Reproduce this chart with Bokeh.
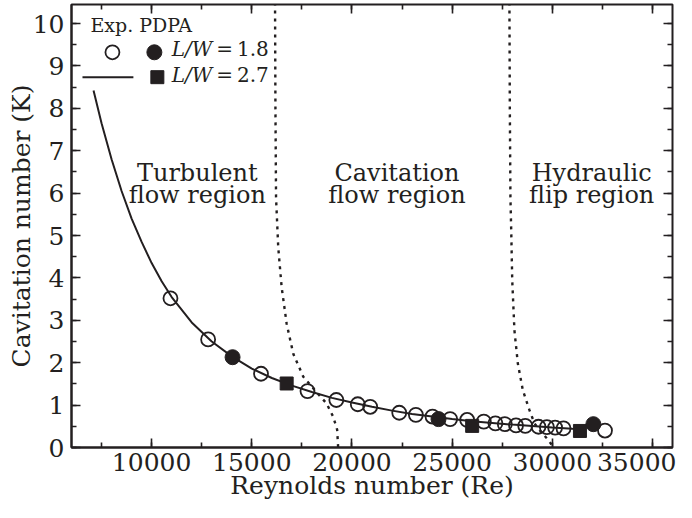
import math
from bokeh.plotting import figure
from bokeh.models import Range1d, LinearAxis, SingleIntervalTicker, Label, CustomLabelingPolicy
from bokeh.embed import file_html
from bokeh.resources import INLINE

FONT = "DejaVu Serif"
INK = "#231f20"

# ---------------- data ----------------
# open-circle experimental points
open_re = [10940, 12820, 15460, 17780, 19220, 20290, 20910, 22360, 23190, 24020,
           24900, 25750, 26580, 27160, 27630, 28190, 28650, 29310, 29730, 30140,
           30560, 32630]
open_k = [3.52, 2.55, 1.74, 1.33, 1.12, 1.02, 0.96, 0.82, 0.77, 0.73,
          0.67, 0.65, 0.61, 0.57, 0.55, 0.52, 0.51, 0.49, 0.48, 0.47,
          0.45, 0.40]
# filled circles, L/W = 1.8
lw18_re = [14040, 24320, 32050]
lw18_k = [2.13, 0.67, 0.55]
# filled squares, L/W = 2.7
lw27_re = [16740, 26000, 31380]
lw27_k = [1.51, 0.51, 0.39]
# fitted curve
curve_re = [7100, 7500, 8000, 8500, 9000, 9500, 10000, 10500, 11000, 12000,
            13000, 14000, 15000, 16000, 17000, 18000, 19000, 20000, 21000, 22000,
            23000, 24000, 25000, 26000, 27000, 28000, 29000, 30000, 31000, 31500]
curve_k = [8.42, 7.65, 6.80, 6.05, 5.40, 4.85, 4.35, 3.92, 3.55, 2.95,
           2.50, 2.15, 1.86, 1.64, 1.46, 1.31, 1.17, 1.06, 0.96, 0.87,
           0.79, 0.73, 0.67, 0.62, 0.58, 0.54, 0.51, 0.47, 0.44, 0.43]
# region boundaries (dotted)
b1_re = [16160, 16180, 16210, 16320, 16490, 16740, 17070, 17570, 18150, 18730, 19060, 19260, 19310]
b1_k = [10.5, 8.0, 5.89, 4.72, 3.78, 2.92, 2.21, 1.67, 1.35, 1.04, 0.73, 0.42, 0.0]
b2_re = [27860, 27880, 27910, 27950, 28000, 28110, 28280, 28530, 28860, 29110, 29450, 29800, 30050]
b2_k = [10.5, 8.0, 5.89, 5.11, 3.94, 2.76, 1.98, 1.35, 0.88, 0.57, 0.36, 0.18, 0.0]

x_start, x_end = 6000, 36000
y_start, y_end = 0, 10.45

W, H = 676, 502
BL, BR, BT, BB = 71, 3, 4, 53

# pixel -> data helpers (for annotation placement only)
def px_x(px):
    return x_start + (px - BL) * (x_end - x_start) / (W - BL - BR)

def px_y(py):
    return y_start + (H - BB - py) * (y_end - y_start) / (H - BT - BB)

p = figure(width=W, height=H, output_backend="svg", toolbar_location=None,
           x_range=Range1d(x_start, x_end), y_range=Range1d(y_start, y_end),
           min_border_left=BL, min_border_right=BR, min_border_top=BT, min_border_bottom=BB)
p.grid.visible = False
p.outline_line_color = INK
p.outline_line_width = 2
p.background_fill_color = "white"
p.border_fill_color = "white"

def style_axis(ax, labels=True):
    ax.axis_line_color = INK
    ax.axis_line_width = 2
    ax.major_tick_line_color = INK
    ax.minor_tick_line_color = INK
    ax.major_tick_line_width = 1.6
    ax.minor_tick_line_width = 1.6
    ax.major_tick_in = 9
    ax.major_tick_out = 0
    ax.minor_tick_in = 5
    ax.minor_tick_out = 0
    ax.major_label_text_font = FONT
    ax.major_label_text_color = INK
    ax.axis_label_text_font = FONT
    ax.axis_label_text_color = INK
    ax.axis_label_text_font_style = "normal"
    ax.axis_label_text_font_size = "25px"
    if labels:
        ax.major_label_text_font_size = "25px"
    else:
        ax.major_label_text_font_size = "1px"
        ax.major_label_standoff = 0
        ax.major_label_policy = CustomLabelingPolicy(code="return []")
        ax.axis_line_color = None

p.xaxis[0].ticker = SingleIntervalTicker(interval=5000, num_minor_ticks=2)
p.yaxis[0].ticker = SingleIntervalTicker(interval=1, num_minor_ticks=2)
style_axis(p.xaxis[0])
style_axis(p.yaxis[0])
p.xaxis[0].major_label_standoff = 5
p.yaxis[0].major_label_standoff = 7
p.xaxis[0].axis_label = "Reynolds number (Re)"
p.yaxis[0].axis_label = "Cavitation number (K)"
p.xaxis[0].axis_label_standoff = -3
p.yaxis[0].axis_label_standoff = -6

top_ax = LinearAxis(ticker=SingleIntervalTicker(interval=5000, num_minor_ticks=2))
right_ax = LinearAxis(ticker=SingleIntervalTicker(interval=1, num_minor_ticks=2))
style_axis(top_ax, labels=False)
style_axis(right_ax, labels=False)
p.add_layout(top_ax, "above")
p.add_layout(right_ax, "right")

# boundaries
p.line(b1_re, b1_k, line_color=INK, line_width=2.4, line_dash="3 5")
p.line(b2_re, b2_k, line_color=INK, line_width=2.4, line_dash="3 5")
# fitted curve
p.line(curve_re, curve_k, line_color=INK, line_width=2)
# points
p.scatter(open_re, open_k, marker="circle", size=14, fill_color=None,
          line_color=INK, line_width=1.8)
p.scatter(lw18_re, lw18_k, marker="circle", size=15, fill_color=INK, line_color=INK)
p.scatter(lw27_re, lw27_k, marker="square", size=13, fill_color=INK, line_color=INK)

# ---- legend (drawn manually) ----
p.scatter([px_x(112)], [px_y(52)], marker="circle", size=14, fill_color=None,
          line_color=INK, line_width=1.8)
p.scatter([px_x(154)], [px_y(52)], marker="circle", size=15, fill_color=INK, line_color=INK)
p.line([px_x(82), px_x(133)], [px_y(77), px_y(77)], line_color=INK, line_width=2)
p.scatter([px_x(157)], [px_y(77)], marker="square", size=13, fill_color=INK, line_color=INK)

def lab(text, px, py, size, align="left", style="normal"):
    p.add_layout(Label(x=px_x(px), y=px_y(py), text=text, text_font=FONT,
                       text_font_size=size, text_color=INK, text_align=align,
                       text_baseline="middle", text_font_style=style))

lab("Exp. PDPA", 90, 25, "19px")
lab("L/W", 212, 49, "20px", align="right", style="italic")
lab("\u2009=\u20091.8", 212, 49, "20px")
lab("L/W", 212, 75, "20px", align="right", style="italic")
lab("\u2009=\u20092.7", 212, 75, "20px")

# region labels
for cx, l1, l2 in [(197, "Turbulent", "flow region"),
                   (397, "Cavitation", "flow region"),
                   (592, "Hydraulic", "flip region")]:
    lab(l1, cx, 173, "24px", align="center")
    lab(l2, cx, 195, "24px", align="center")

open("out.html", "w").write(file_html(p, INLINE))
